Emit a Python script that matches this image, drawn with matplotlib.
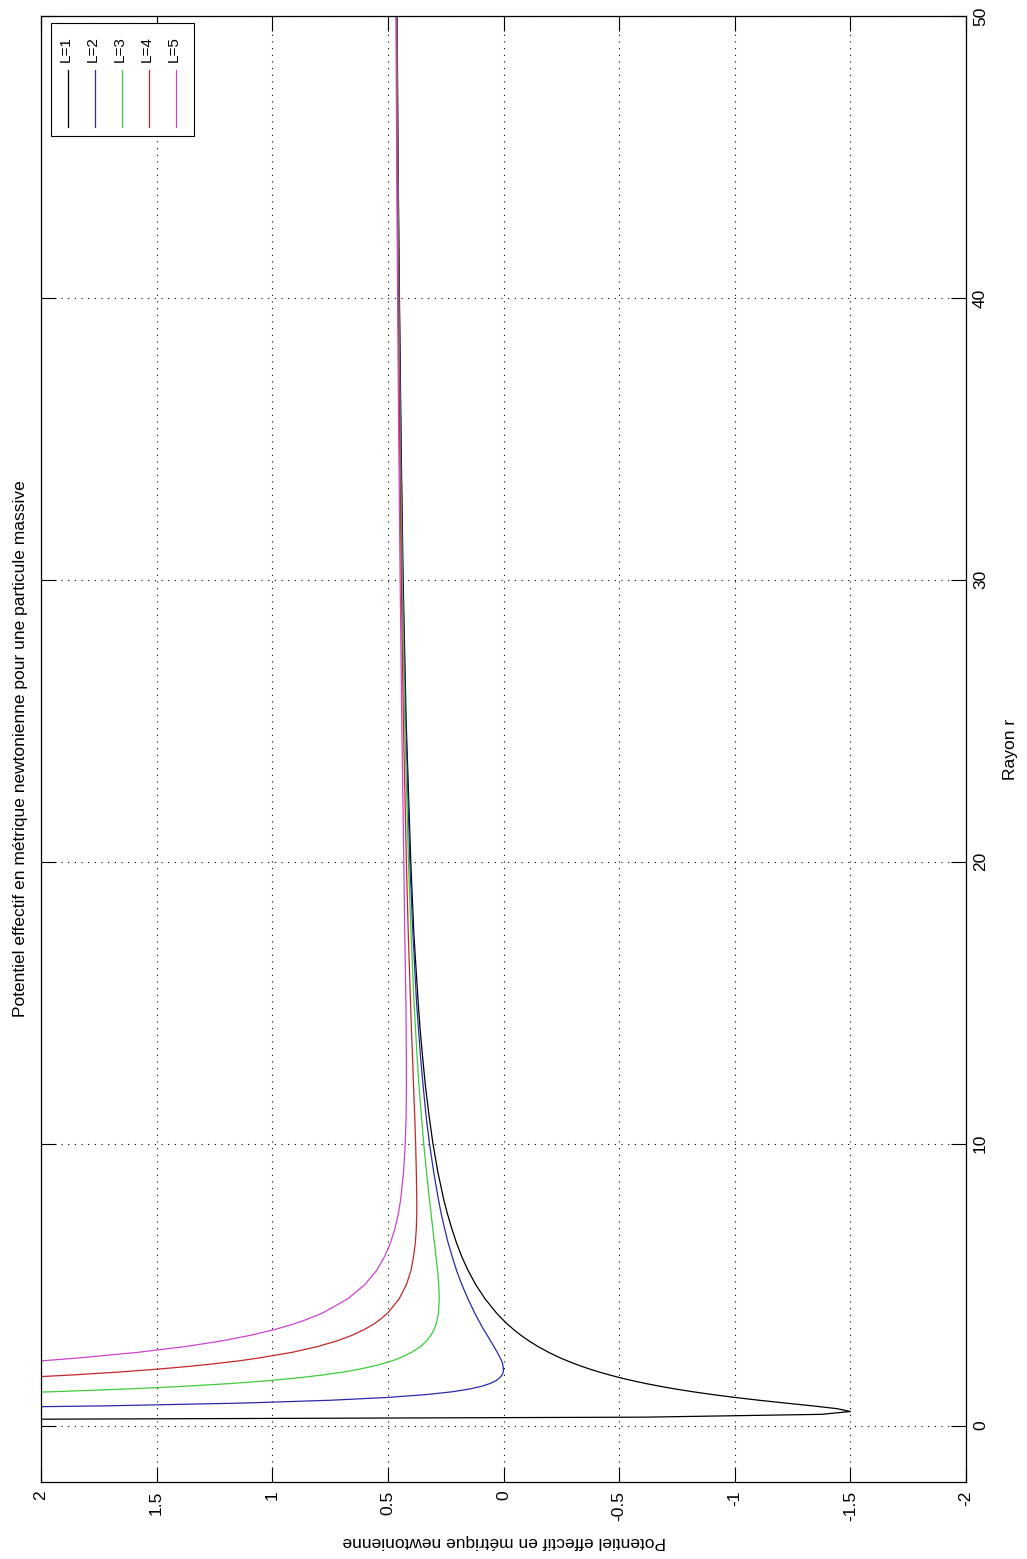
import matplotlib
matplotlib.use("Agg")
import matplotlib.pyplot as plt
from matplotlib.patches import Rectangle
from matplotlib.lines import Line2D

plt.rcParams['font.family'] = ['Liberation Sans', 'DejaVu Sans']
plt.rcParams['font.size'] = 12.5

# Rayon r (common grid, each curve uses its tail)
r_grid = [0.2, 0.3, 0.4, 0.5, 0.6, 0.7, 0.8, 0.9, 1.0, 1.1, 1.2, 1.3, 1.4, 1.5, 1.6, 1.7, 1.8, 1.9, 2.0, 2.1, 2.2, 2.3, 2.4,
          2.6, 2.8, 3.0, 3.2, 3.4, 3.6, 3.8, 4.0,
          4.5, 5.0, 5.5, 6.0, 6.5, 7.0, 7.5, 8.0,
          9, 10, 11, 12, 13, 14, 15,
          17.5, 20, 25, 30, 35, 40, 45, 50]

# Potentiel effectif
v_L1 = [3.0, -0.611, -1.375, -1.5, -1.444, -1.337, -1.219, -1.105, -1.0, -0.905, -0.820, -0.742, -0.674,
        -0.611, -0.555, -0.503, -0.457, -0.414, -0.375, -0.339, -0.306, -0.275, -0.246,
        -0.195, -0.150, -0.111, -0.076, -0.045, -0.017, 0.008, 0.031,
        0.080, 0.120, 0.153, 0.181, 0.204, 0.224, 0.242, 0.258,
        0.284, 0.305, 0.322, 0.337, 0.349, 0.360, 0.369,
        0.388, 0.401, 0.421, 0.434, 0.443, 0.450, 0.456, 0.460]
v_L2 = [4.5, 2.722, 1.725, 1.125, 0.747, 0.5, 0.335, 0.222, 0.145, 0.092, 0.056, 0.031, 0.016, 0.006,
        0.001, 0.0, 0.002, 0.004, 0.008, 0.014,
        0.027, 0.041, 0.056, 0.070, 0.085, 0.099, 0.112, 0.125,
        0.154, 0.180, 0.203, 0.222, 0.240, 0.255, 0.269, 0.281,
        0.302, 0.320, 0.335, 0.347, 0.358, 0.367, 0.376,
        0.392, 0.405, 0.423, 0.436, 0.444, 0.451, 0.457, 0.461]
v_L3 = [3.0, 2.401, 1.958, 1.625, 1.367, 1.167, 1.008, 0.881, 0.778, 0.694, 0.625, 0.568, 0.521, 0.481, 0.448,
        0.397, 0.360, 0.333, 0.314, 0.301, 0.291, 0.286, 0.281,
        0.278, 0.280, 0.285, 0.292, 0.299, 0.306, 0.313, 0.320,
        0.333, 0.345, 0.355, 0.365, 0.373, 0.380, 0.387,
        0.400, 0.411, 0.427, 0.438, 0.447, 0.453, 0.458, 0.462]
v_L4 = [2.722, 2.375, 2.092, 1.858, 1.663, 1.5, 1.362, 1.244, 1.142, 1.056,
        0.914, 0.806, 0.722, 0.656, 0.604, 0.561, 0.528, 0.5,
        0.451, 0.420, 0.400, 0.389, 0.381, 0.377, 0.375, 0.375,
        0.377, 0.380, 0.384, 0.389, 0.393, 0.398, 0.402,
        0.412, 0.420, 0.433, 0.442, 0.449, 0.455, 0.460, 0.463]
v_L5 = [2.382, 2.174, 1.993, 1.837,
        1.580, 1.380, 1.222, 1.096, 0.993, 0.909, 0.840, 0.781,
        0.673, 0.600, 0.549, 0.514, 0.488, 0.469, 0.455, 0.445,
        0.432, 0.425, 0.421, 0.420, 0.420, 0.421, 0.422,
        0.427, 0.431, 0.440, 0.447, 0.453, 0.458, 0.462, 0.465]

labels = ["L=1", "L=2", "L=3", "L=4", "L=5"]
series = [v_L1, v_L2, v_L3, v_L4, v_L5]
colors = ["#000000", "#2a2aa8", "#3ccc3c", "#c02828", "#cc44cc"]

v_ticks = [2, 1.5, 1, 0.5, 0, -0.5, -1, -1.5, -2]
v_tick_labels = ["2", "1.5", "1", "0.5", "0", "-0.5", "-1", "-1.5", "-2"]
r_ticks = [0, 10, 20, 30, 40, 50]
r_tick_labels = ["0", "10", "20", "30", "40", "50"]

W, H = 1027, 1559
fig = plt.figure(figsize=(W / 100, H / 100), dpi=100)
ax = fig.add_axes([41 / W, 1 - 1482 / H, 925 / W, 1466 / H])

for v, c in zip(series, colors):
    ax.plot(v, r_grid[-len(v):], color=c, lw=0.9)

ax.set_xlim(2, -2)
ax.set_ylim(-2, 50)
ax.set_xticks(v_ticks)
ax.set_xticklabels(v_tick_labels, rotation=90)
ax.set_yticks(r_ticks)
ax.set_yticklabels(r_tick_labels, rotation=90, va="center")

ax.tick_params(direction="in", length=10.5, width=0.8, colors="black")
ax.tick_params(axis="x", top=True, bottom=True, pad=6.3)
ax.tick_params(axis="y", left=True, right=True, labelleft=False, labelright=True, pad=5)
for s in ax.spines.values():
    s.set_linewidth(0.9)

ax.grid(True, color="black", linestyle=(0, (1, 5)), linewidth=0.8)

# titre et etiquettes (figure tournee)
fig.text(21 / W, 1 - 749 / H, "Potentiel effectif en métrique newtonienne pour une particule massive",
         rotation=90, ha="center", va="center")
fig.text(504 / W, 1 - 1541 / H, "Potentiel effectif en métrique newtonienne",
         rotation=180, ha="center", va="center")
fig.text(1010 / W, 1 - 749 / H, "Rayon r", rotation=90, ha="center", va="center")

# legende
fig.add_artist(Rectangle((51 / W, 1 - 136 / H), 143 / W, 113 / H, transform=fig.transFigure,
                         facecolor="white", edgecolor="black", lw=0.8, zorder=5))
for i, (lab, c) in enumerate(zip(labels, colors)):
    x = (67.7 + i * 27.1) / W
    fig.add_artist(Line2D([x, x], [1 - 127 / H, 1 - 70 / H], color=c, lw=0.9,
                          transform=fig.transFigure, zorder=6))
    fig.text(x - 2 / W, 1 - 62 / H, lab, rotation=90, ha="center", va="bottom", fontsize=11, zorder=7)

fig.savefig("out.png", dpi=100)
